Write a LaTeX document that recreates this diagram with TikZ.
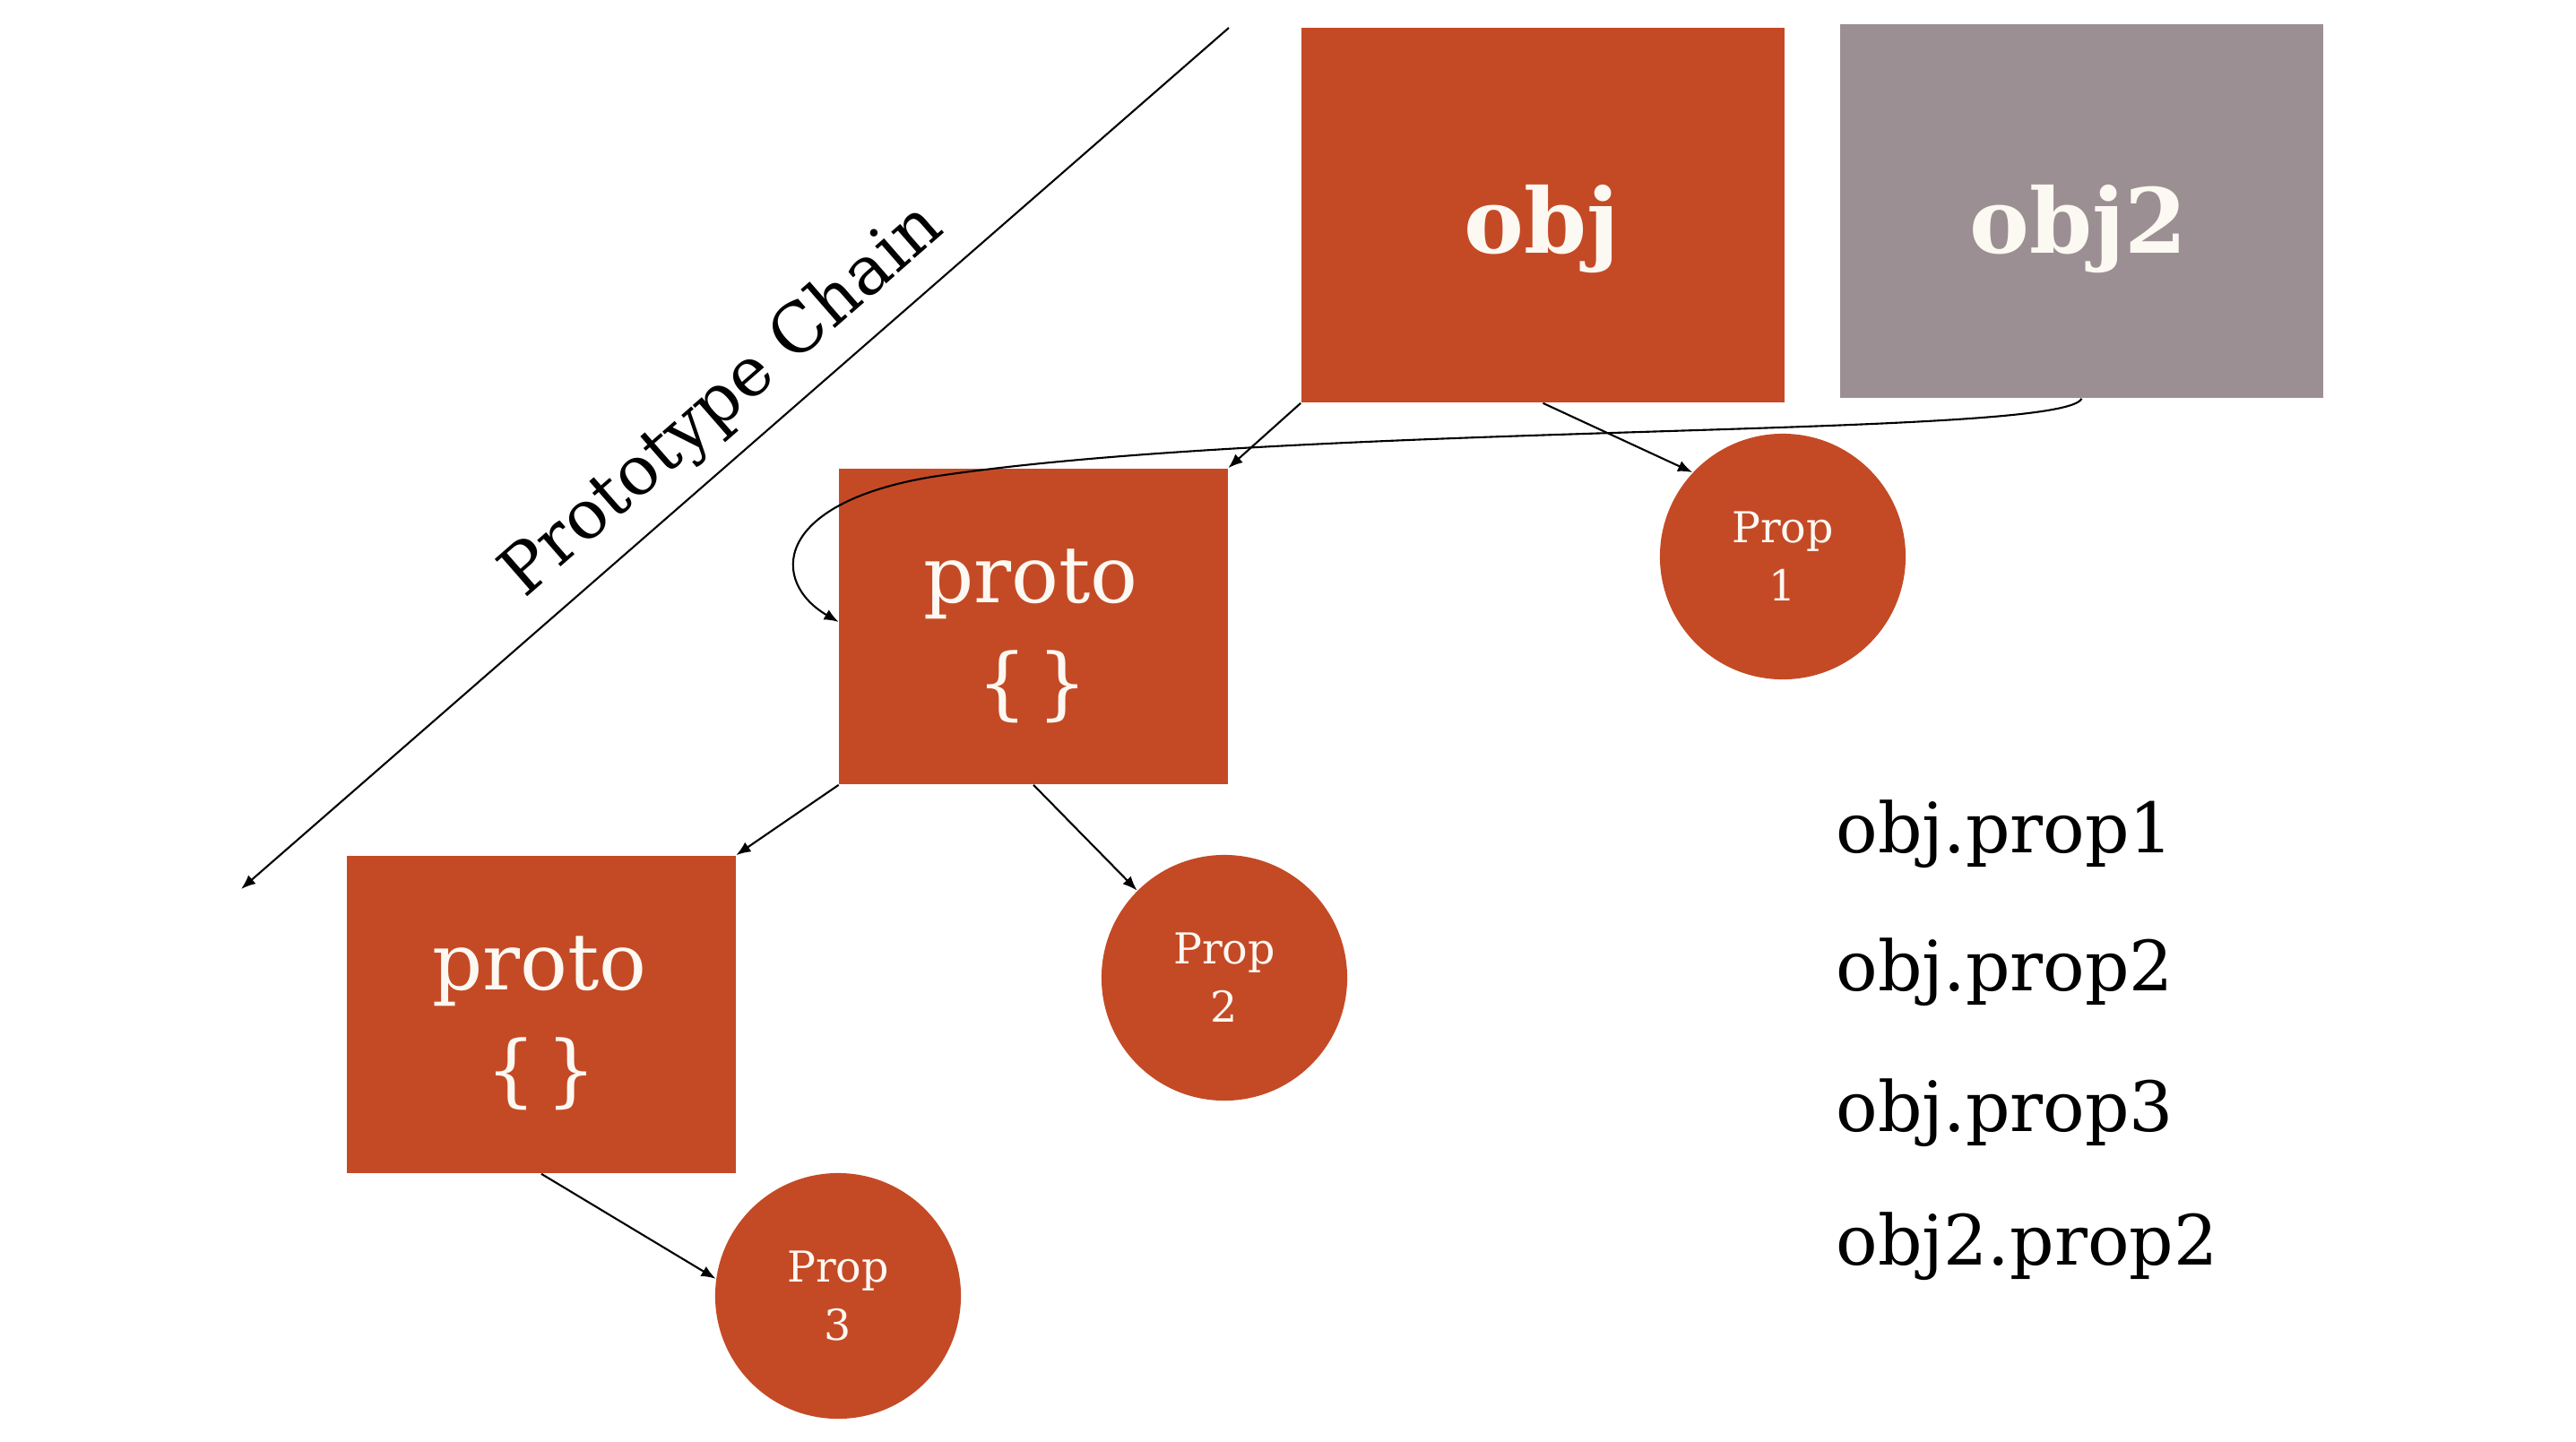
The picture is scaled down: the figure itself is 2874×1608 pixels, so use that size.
\documentclass[tikz,border=0pt]{standalone}
\usepackage{fontspec}
\usetikzlibrary{arrows.meta}
\newfontfamily\slab{DejaVu Serif}
\definecolor{rust}{RGB}{196,74,38}
\definecolor{mauvegrey}{RGB}{155,143,147}
\definecolor{paper}{RGB}{252,248,242}
\begin{document}
\begin{tikzpicture}[x=0.01cm,y=-0.01cm,
  panel/.style={rectangle, fill=#1, inner sep=0pt},
  objword/.style={anchor=base, inner sep=0pt, text=paper,
    font=\slab\bfseries\fontsize{28.5}{34}\selectfont},
  protoword/.style={inner sep=0pt, text=paper, font=\slab\fontsize{25}{30}\selectfont},
  propdisc/.style={circle, fill=rust, inner sep=0pt, text=paper, align=center,
    minimum size=2.74cm, font=\slab\fontsize{13.5}{18.5}\selectfont},
  link/.style={line width=0.6pt, -{Latex[length=4.6pt,width=3.6pt]}},
  listing/.style={anchor=base west, inner sep=0pt, font=\slab\fontsize{22}{24}\selectfont}]
  \useasboundingbox[fill=white] (0,0) rectangle (2874,1608);

  % objects
  \node[panel=rust, minimum width=5.39cm, minimum height=4.18cm] (obj) at (1721.5,240) {};
  \node[panel=mauvegrey, minimum width=5.39cm, minimum height=4.17cm] (obj2) at (2322.5,235.5) {};
  \node[objword] (objname) at (1720,282) {obj};
  \node[objword] (obj2name) at (2319,282) {obj2};

  % prototypes
  \node[panel=rust, minimum width=4.33cm, minimum height=3.52cm] (proto1) at (1153,699) {};
  \node[panel=rust, minimum width=4.33cm, minimum height=3.54cm] (proto2) at (604,1132) {};
  \node[protoword, anchor=base] (proto1name) at (1150,672) {proto};
  \node[protoword] (proto1body) at (1152,766) {\{\kern0.12em\}};
  \node[protoword, anchor=base] (proto2name) at (602,1104) {proto};
  \node[protoword] (proto2body) at (604,1198) {\{\kern0.12em\}};

  % own properties
  \node[propdisc] (p1) at (1989,621) {Prop\\1};
  \node[propdisc] (p2) at (1366,1091) {Prop\\2};
  \node[propdisc] (p3) at (935,1446) {Prop\\3};

  % lookup links
  \draw[link] (obj.south west) -- (proto1.north east);
  \draw[link] (obj.south) -- (p1.137);
  \draw[link] (proto1.south west) -- (proto2.north east);
  \draw[link] (proto1.south) -- (p2.135);
  \draw[link] (proto2.south) -- (p3.172);
  \draw[link] (obj2.south) .. controls (2300,490) and (1450,470) .. (1040,532)
     .. controls (860,562) and (860,650) .. ([yshift=0.05cm]proto1.west);

  % prototype chain axis
  \coordinate (axisTop) at (1371,31);
  \coordinate (axisEnd) at (269,992);
  \draw[link] (axisTop) -- (axisEnd);
  \node[rotate=41.1, font=\slab\fontsize{21.5}{24}\selectfont, inner sep=0pt] (chain) at (807,448) {Prototype Chain};

  % property accesses
  \node[listing] (l1) at (2048,951) {obj.prop1};
  \node[listing] (l2) at (2048,1105) {obj.prop2};
  \node[listing] (l3) at (2048,1262) {obj.prop3};
  \node[listing] (l4) at (2048,1411) {obj2.prop2};
\end{tikzpicture}
\end{document}
